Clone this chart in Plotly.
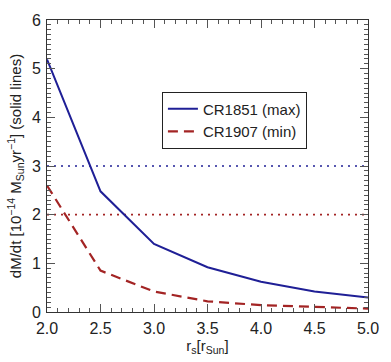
import plotly.graph_objects as go

r_s = [2.0, 2.5, 3.0, 3.5, 4.0, 4.5, 5.0]
cr1851 = [5.19, 2.48, 1.40, 0.92, 0.62, 0.42, 0.30]
cr1907 = [2.60, 0.85, 0.42, 0.22, 0.14, 0.10, 0.07]
ref_x = [2.0, 5.0]
ref_max = [3.0, 3.0]
ref_min = [2.0, 2.0]

blue = "#1f1f96"
red = "#a32424"

fig = go.Figure()
fig.add_trace(go.Scatter(x=ref_x, y=ref_max, mode="lines", showlegend=False,
                         line=dict(color=blue, width=1.6, dash="2px,5px")))
fig.add_trace(go.Scatter(x=ref_x, y=ref_min, mode="lines", showlegend=False,
                         line=dict(color=red, width=1.6, dash="2px,5px")))
fig.add_trace(go.Scatter(x=r_s, y=cr1851, mode="lines", name="CR1851 (max)",
                         line=dict(color=blue, width=2)))
fig.add_trace(go.Scatter(x=r_s, y=cr1907, mode="lines", name="CR1907 (min)",
                         line=dict(color=red, width=2.2, dash="10px,6px")))

font = "Liberation Sans, Arial, Helvetica, sans-serif"
axis_common = dict(
    showgrid=False, zeroline=False, showline=True, linecolor="#333", linewidth=1,
    mirror="ticks", ticks="inside", ticklen=8, tickcolor="#555", tickwidth=1,
    tickfont=dict(size=16, color="#222", family=font),
)
fig.update_xaxes(range=[2.0, 5.0], dtick=0.5, tickformat=".1f", ticklabelstandoff=2,
                 minor=dict(dtick=0.1, ticks="inside", ticklen=4, tickcolor="#555"),
                 title=dict(text="r<sub>s</sub>[r<sub>Sun</sub>]", font=dict(size=15, color="#222", family=font), standoff=2),
                 **axis_common)
fig.update_yaxes(range=[0, 6], dtick=1, ticklabelstandoff=2,
                 minor=dict(dtick=0.1, ticks="inside", ticklen=4, tickcolor="#555"),
                 title=dict(text="dM/dt [10<sup>−14</sup> M<sub>Sun</sub>yr<sup>−1</sup>] (solid lines)",
                            font=dict(size=15, color="#222", family=font), standoff=6),
                 **axis_common)

fig.update_layout(
    width=391, height=362,
    margin=dict(l=47, r=14, t=15, b=49),
    plot_bgcolor="white", paper_bgcolor="white",
    font=dict(family=font, color="#222"),
    legend=dict(x=0.358, y=0.755, xanchor="left", yanchor="top",
                bordercolor="#222", borderwidth=1, bgcolor="white",
                font=dict(size=15, family=font, color="#222"),
                tracegroupgap=0, itemwidth=30),
)

fig.write_html("out.html")
